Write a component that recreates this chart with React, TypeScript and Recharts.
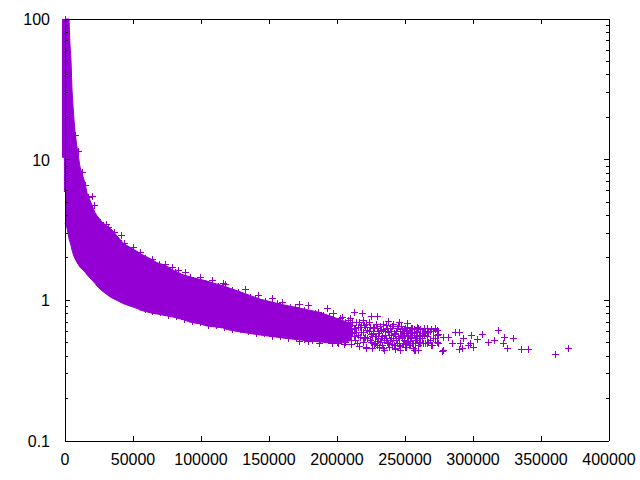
import { Area, ComposedChart, ReferenceArea, Scatter, XAxis, YAxis } from 'recharts'

const PURPLE = '#9400D3'

const xTicks = [0, 50000, 100000, 150000, 200000, 250000, 300000, 350000, 400000]
const yTicks = [
  0.1, 0.2, 0.3, 0.4, 0.5, 0.6, 0.7, 0.8, 0.9, 1, 2, 3, 4, 5, 6, 7, 8, 9, 10, 20, 30, 40, 50, 60, 70, 80, 90, 100,
]
const yLabels = [0.1, 1, 10, 100]

const bandX = [
  0, 1470, 2940, 3680, 4410, 5150, 5880, 6620, 7350, 8820, 11030, 14700, 16180, 22060, 23530, 27200, 33090, 34560,
  42650, 45590, 53680, 55150, 63970, 67650, 73530, 79410, 86770, 91910, 99270, 104400, 108800, 116200, 119100, 128700,
  143400, 160300, 172800, 187500, 194000, 204000, 211000,
]
const bandLow = [
  3.55, 3.27, 2.75, 2.6, 2.45, 2.28, 2.15, 2.05, 1.98, 1.86, 1.72, 1.59, 1.52, 1.32, 1.26, 1.17, 1.06, 1.04, 0.95,
  0.927, 0.87, 0.853, 0.81, 0.8, 0.78, 0.761, 0.73, 0.7, 0.68, 0.657, 0.65, 0.636, 0.62, 0.596, 0.567, 0.54, 0.523,
  0.506, 0.5, 0.5, 0.52,
]
const bandHigh = [
  100, 100, 100, 65.3, 51, 31.3, 24.1, 19.1, 15.7, 12.3, 8.87, 6.82, 5.79, 4.2, 4.0, 3.6, 3.25, 3.16, 2.56, 2.45,
  2.21, 2.15, 1.95, 1.85, 1.78, 1.64, 1.52, 1.47, 1.41, 1.37, 1.33, 1.27, 1.24, 1.15, 1.02, 0.93, 0.88, 0.82, 0.78,
  0.72, 0.68,
]

const upperPoints = [
  [0, 100], [7350, 15], [9500, 11.5], [12500, 8.2], [14700, 6.6], [17000, 5.4], [19630, 5.52], [21320, 4.76],
  [29930, 3.49], [31400, 3.32], [36030, 3.06], [41180, 2.91], [43380, 2.56],
  [50000, 2.39], [55150, 2.21], [63970, 1.97], [63970, 1.87], [69120, 1.81], [73530, 1.81], [78680, 1.73],
  [83090, 1.64], [88240, 1.59], [99270, 1.47], [108100, 1.39], [116200, 1.33], [117600, 1.31], [132400, 1.2],
  [141900, 1.09], [152200, 1.04], [159600, 0.973], [172100, 0.942], [178700, 0.927], [192700, 0.882], [197100, 0.813],
  [203700, 0.761], [212500, 0.826], [218400, 0.813], [225000, 0.774], [229400, 0.774], [208100, 0.724], [219100, 0.724],
  [237500, 0.713], [245600, 0.7], [251500, 0.69], [258800, 0.646], [25700, 3.61], [33100, 3.06], [39000, 2.68],
  [46300, 2.32], [58800, 2.0], [80900, 1.59], [91900, 1.47], [102900, 1.33], [112500, 1.26], [122800, 1.18],
  [136000, 1.06], [147100, 0.99], [165400, 0.897], [183800, 0.813], [127000, 1.14], [140000, 1.04], [156000, 0.96],
  [169000, 0.89], [176000, 0.86], [186000, 0.82], [190000, 0.79],
]

const lowerPoints = [
  [58800, 0.868], [64000, 0.84], [69900, 0.826], [75700, 0.787], [81600, 0.774], [87500, 0.736], [93400, 0.713],
  [99300, 0.7], [105100, 0.668], [111000, 0.668], [116900, 0.646], [122800, 0.625], [128700, 0.625], [134600, 0.605],
  [140400, 0.586], [146300, 0.586], [152200, 0.558], [158100, 0.558], [164000, 0.54], [169900, 0.548], [175700, 0.531],
  [181600, 0.523], [187500, 0.531], [193400, 0.523], [172100, 0.515], [178700, 0.51], [187000, 0.5], [196000, 0.498],
  [201000, 0.5], [206000, 0.505], [214700, 0.498], [221300, 0.458], [229400, 0.481], [233800, 0.458], [242600, 0.458],
  [256600, 0.443], [246300, 0.443], [250000, 0.466],
]

const tailPoints = [
  [191200, 0.7], [192700, 0.605], [194100, 0.774], [194900, 0.54], [196300, 0.668], [197800, 0.724], [198500, 0.586],
  [200000, 0.506], [200700, 0.636], [202200, 0.749], [202900, 0.558], [204400, 0.668], [205100, 0.489], [205900, 0.605],
  [207400, 0.531], [208800, 0.657], [209600, 0.749], [210300, 0.489], [211000, 0.586], [212500, 0.636], [213200, 0.523],
  [214000, 0.7], [215400, 0.567], [216200, 0.473], [216900, 0.646], [217600, 0.596], [219100, 0.506], [219800, 0.668],
  [220600, 0.548], [221300, 0.466], [222000, 0.615], [223500, 0.7], [224300, 0.523], [225000, 0.576], [225700, 0.458],
  [226500, 0.646], [227200, 0.489], [227900, 0.558], [228700, 0.679], [229400, 0.514], [230100, 0.605], [230900, 0.466],
  [231600, 0.657], [232400, 0.54], [233100, 0.481], [233800, 0.625], [234600, 0.443], [235300, 0.567], [236000, 0.668],
  [236800, 0.506], [237500, 0.596], [238200, 0.466], [239000, 0.636], [239700, 0.54], [240500, 0.489], [241200, 0.679],
  [241900, 0.586], [242600, 0.451], [243400, 0.523], [244100, 0.636], [244900, 0.558], [245600, 0.481], [246300, 0.605],
  [247100, 0.657], [247800, 0.54], [248500, 0.498], [249300, 0.586], [250000, 0.636], [250700, 0.466], [251500, 0.558],
  [252200, 0.514], [252900, 0.615], [253700, 0.481], [254400, 0.548], [255100, 0.636], [255900, 0.498], [256600, 0.586],
  [257400, 0.443], [258100, 0.523], [258800, 0.605], [259600, 0.481], [260300, 0.558], [261000, 0.506], [262500, 0.586],
  [264000, 0.636], [264700, 0.498], [266200, 0.558], [266900, 0.506], [268400, 0.605], [269100, 0.481], [270600, 0.54],
  [272100, 0.625], [273500, 0.506], [274300, 0.576], [266200, 0.636], [272100, 0.636], [273500, 0.615], [247800, 0.548],
  [253700, 0.596], [261000, 0.567], [263200, 0.586], [257400, 0.54], [266900, 0.506], [261000, 0.498], [251500, 0.506],
  [255100, 0.498], [263200, 0.498], [269900, 0.481], [259600, 0.443], [277200, 0.436], [277900, 0.443], [277900, 0.548],
  [281600, 0.548], [284600, 0.498], [286800, 0.596], [289700, 0.596], [292600, 0.54], [298500, 0.567], [306600, 0.576],
  [318400, 0.615], [302900, 0.531], [311000, 0.506], [315500, 0.523], [322800, 0.548], [329400, 0.54], [322100, 0.498],
  [325000, 0.458], [335300, 0.451], [340400, 0.451], [360300, 0.416], [369900, 0.458], [290400, 0.498], [289700, 0.451],
  [296300, 0.481], [300000, 0.466], [297800, 0.498], [291900, 0.458],
]

const fillerPoints = [
  [202200, 0.7], [203700, 0.646], [204400, 0.596], [205900, 0.7], [207400, 0.625], [208800, 0.567], [209600, 0.668],
  [210300, 0.625], [211000, 0.7], [212500, 0.558], [213200, 0.636], [214000, 0.596], [215400, 0.646], [216200, 0.7],
  [216900, 0.548], [217600, 0.668], [219100, 0.596], [219800, 0.54], [220600, 0.646], [221300, 0.679], [222000, 0.54],
  [223500, 0.605], [224300, 0.646], [225000, 0.505], [225700, 0.558], [226500, 0.586], [227200, 0.636], [227900, 0.498],
  [228700, 0.558], [229400, 0.636], [230100, 0.54], [230900, 0.586], [231600, 0.505], [232400, 0.615], [233100, 0.558],
  [233800, 0.679], [234600, 0.523], [235300, 0.605], [236000, 0.54], [236800, 0.636], [237500, 0.498], [238200, 0.567],
  [239000, 0.523], [239700, 0.605], [240500, 0.657], [241200, 0.54], [241900, 0.481], [242600, 0.576], [243400, 0.605],
  [244100, 0.498], [244900, 0.657], [245600, 0.54], [246300, 0.473], [247100, 0.567], [247800, 0.625], [248500, 0.586],
  [249300, 0.523], [250000, 0.489], [250700, 0.605], [251500, 0.646], [252200, 0.567], [252900, 0.481], [253700, 0.54],
  [254400, 0.636], [255100, 0.567], [255900, 0.458], [256600, 0.625], [257400, 0.498], [258100, 0.596], [258800, 0.54],
  [259600, 0.636], [260300, 0.498], [261000, 0.625], [262500, 0.54], [264000, 0.567], [264700, 0.605], [266200, 0.498],
  [266900, 0.596], [268400, 0.523], [269100, 0.625], [270600, 0.605], [272100, 0.54], [273500, 0.567], [274300, 0.498],
]

const bandData = bandX.map((x, i) => ({ x, band: [bandLow[i], bandHigh[i]] }))
const pointData = [...upperPoints, ...lowerPoints, ...tailPoints, ...fillerPoints].map(([x, y]) => ({ x, y }))

const PlusMark = ({ cx, cy }: any) => {
  const px = Math.round(cx) + 0.5
  const py = Math.round(cy) + 0.5
  return (
    <path
      d={`M${px - 3.5} ${py}H${px + 3.5}M${px} ${py - 3.5}V${py + 3.5}`}
      stroke={PURPLE}
      strokeWidth={1}
      fill="none"
      shapeRendering="crispEdges"
    />
  )
}

const NoMark = () => null

const tickText = { fontFamily: 'Liberation Sans', fontSize: 16, fill: '#000' }

const BottomTick = ({ x, y, payload }: any) => (
  <g>
    <line x1={x} x2={x} y1={y} y2={y - 5} stroke="#000" shapeRendering="crispEdges" />
    <text x={x} y={y + 24} textAnchor="middle" {...tickText}>
      {payload.value}
    </text>
  </g>
)

const TopTick = ({ x, y }: any) => (
  <line x1={x} x2={x} y1={y} y2={y + 5} stroke="#000" shapeRendering="crispEdges" />
)

const LeftTick = ({ x, y, payload }: any) => {
  const major = yLabels.includes(payload.value)
  return (
    <g>
      <line x1={x} x2={x + (major ? 5 : 3)} y1={y} y2={y} stroke="#000" shapeRendering="crispEdges" />
      {major && (
        <text x={x - 15} y={y + 6} textAnchor="end" {...tickText}>
          {payload.value}
        </text>
      )}
    </g>
  )
}

const RightTick = ({ x, y, payload }: any) => {
  const major = yLabels.includes(payload.value)
  return <line x1={x} x2={x - (major ? 5 : 3)} y1={y} y2={y} stroke="#000" shapeRendering="crispEdges" />
}

const axisLine = { stroke: '#000', shapeRendering: 'crispEdges' }
const chartMargin = { top: 18, right: 30, bottom: 0, left: 0 }
const layer = { position: 'absolute', left: 0, top: 0 } as const

// the frame sits on top of the points, so it goes in a second chart laid over the first
export default function App() {
  return (
    <div style={{ position: 'absolute', left: 0, top: 0, width: 640, height: 480, background: '#fff' }}>
      <div style={layer}>
        <ComposedChart width={640} height={480} data={bandData} margin={chartMargin}>
          <XAxis
            xAxisId="bottom"
            dataKey="x"
            type="number"
            domain={[0, 400000]}
            ticks={xTicks}
            height={39}
            tick={false}
            tickLine={false}
            axisLine={false}
          />
          <YAxis
            yAxisId="left"
            type="number"
            scale="log"
            domain={[0.1, 100]}
            ticks={yTicks}
            width={65}
            tick={false}
            tickLine={false}
            axisLine={false}
          />
          <XAxis xAxisId="top" orientation="top" type="number" domain={[0, 400000]} height={1} tick={false} axisLine={false} />
          <YAxis yAxisId="right" orientation="right" type="number" domain={[0, 1]} width={1} tick={false} axisLine={false} />
          <ReferenceArea
            xAxisId="bottom"
            yAxisId="left"
            x1={-2200}
            x2={0}
            y1={10.3}
            y2={100}
            ifOverflow="visible"
            fill={PURPLE}
            fillOpacity={1}
            stroke="none"
          />
          <ReferenceArea
            xAxisId="bottom"
            yAxisId="left"
            x1={-800}
            x2={0}
            y1={5.9}
            y2={10.3}
            ifOverflow="visible"
            fill={PURPLE}
            fillOpacity={1}
            stroke="none"
          />
          <Area
            xAxisId="bottom"
            yAxisId="left"
            dataKey="band"
            type="linear"
            fill={PURPLE}
            fillOpacity={1}
            stroke={PURPLE}
            strokeWidth={1}
            dot={false}
            activeDot={false}
            isAnimationActive={false}
          />
          <Scatter
            xAxisId="bottom"
            yAxisId="left"
            data={pointData}
            dataKey="y"
            shape={PlusMark}
            isAnimationActive={false}
          />
        </ComposedChart>
      </div>
      <div style={layer}>
        <ComposedChart width={640} height={480} data={bandData} margin={chartMargin}>
          <XAxis
            xAxisId="bottom"
            dataKey="x"
            type="number"
            domain={[0, 400000]}
            ticks={xTicks}
            interval={0}
            height={39}
            tickSize={0}
            tickMargin={0}
            tickLine={false}
            axisLine={axisLine}
            tick={BottomTick}
          />
          <XAxis
            xAxisId="top"
            orientation="top"
            dataKey="x"
            type="number"
            domain={[0, 400000]}
            ticks={xTicks}
            interval={0}
            height={1}
            tickSize={0}
            tickMargin={0}
            tickLine={false}
            axisLine={axisLine}
            tick={TopTick}
          />
          <YAxis
            yAxisId="left"
            type="number"
            scale="log"
            domain={[0.1, 100]}
            ticks={yTicks}
            interval={0}
            width={65}
            tickSize={0}
            tickMargin={0}
            tickLine={false}
            axisLine={axisLine}
            tick={LeftTick}
          />
          <YAxis
            yAxisId="right"
            orientation="right"
            type="number"
            scale="log"
            domain={[0.1, 100]}
            ticks={yTicks}
            interval={0}
            width={1}
            tickSize={0}
            tickMargin={0}
            tickLine={false}
            axisLine={axisLine}
            tick={RightTick}
          />
          <Scatter
            xAxisId="bottom"
            yAxisId="left"
            data={pointData}
            dataKey="y"
            shape={NoMark}
            isAnimationActive={false}
          />
          <Scatter
            xAxisId="top"
            yAxisId="right"
            data={pointData}
            dataKey="y"
            shape={NoMark}
            isAnimationActive={false}
          />
        </ComposedChart>
      </div>
    </div>
  )
}
